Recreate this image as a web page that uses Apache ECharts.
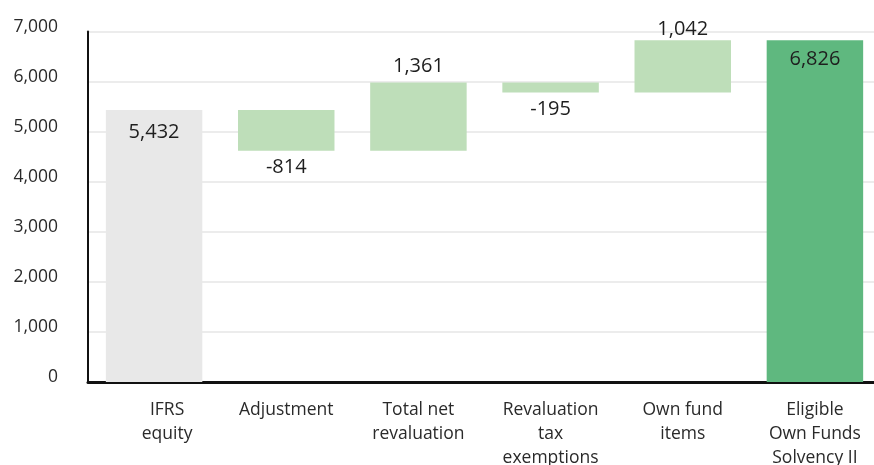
<!DOCTYPE html>
<html>
<head>
<meta charset="utf-8">
<script src="https://cdn.jsdelivr.net/npm/echarts@6/dist/echarts.min.js"></script>
<style>
html,body{margin:0;padding:0;background:#fff;}
#c{width:874px;height:465px;}
</style>
</head>
<body>
<div id="c"></div>
<script>
const categories = ["IFRS\nequity", "Adjustment", "Total net\nrevaluation", "Revaluation\ntax\nexemptions", "Own fund\nitems", "Eligible\nOwn Funds\nSolvency II"];
const values = [5432, -814, 1361, -195, 1042, 6826];
const kinds = ["start", "delta", "delta", "delta", "delta", "total"];
const yTicks = [0, 1000, 2000, 3000, 4000, 5000, 6000, 7000];

const colors = { start: "#e8e8e8", delta: "#bedeb9", total: "#5fb87f" };
const fmt = v => Math.abs(v).toLocaleString("en-US");
const FONT = "Open Sans";

let running = 0;
const baseData = [], barData = [];
values.forEach((v, i) => {
  const k = kinds[i];
  let base, h;
  if (k === "delta") {
    base = v >= 0 ? running : running + v;
    h = Math.abs(v);
    running += v;
  } else {
    base = 0; h = v; running = v;
  }
  baseData.push(base);
  let label;
  if (k === "delta") {
    label = v >= 0 ? { position: "top", distance: (i === 4 ? 1 : 6) } : { position: "bottom", distance: 7 };
  } else {
    label = { position: "insideTop", distance: (k === "start" ? 12 : 9) };
  }
  barData.push({
    value: h,
    raw: v,
    itemStyle: { color: colors[k] },
    label: label
  });
});

const chart = echarts.init(document.getElementById("c"), null, { renderer: "canvas" });
chart.setOption({
  animation: false,
  grid: { left: 88, right: -7, top: 31.5, bottom: 83, containLabel: false, outerBoundsMode: "none" },
  xAxis: {
    type: "category",
    data: categories,
    axisLine: { show: true, lineStyle: { color: "#111", width: 3 } },
    axisTick: { show: false },
    axisLabel: {
      interval: 0,
      margin: 16,
      color: "#2a2a2a",
      fontFamily: FONT,
      fontSize: 17.5,
      lineHeight: 24,
      formatter: (val, idx) => idx === 0 ? val.split("\n").map(s => "{s|" + s + "}").join("\n") : val,
      rich: { s: { padding: [0, 0, 0, 26], fontFamily: FONT, fontSize: 17.5, lineHeight: 24, color: "#2a2a2a" } }
    }
  },
  yAxis: {
    type: "value",
    min: yTicks[0],
    max: yTicks[yTicks.length - 1],
    interval: 1000,
    axisLine: { show: true, lineStyle: { color: "#111", width: 2 } },
    axisTick: { show: false },
    splitLine: { show: true, lineStyle: { color: "#e6e6e6", width: 1.5 } },
    axisLabel: {
      color: "#2a2a2a",
      margin: 30,
      formatter: v => "{t|" + v.toLocaleString("en-US") + "}",
      rich: { t: { fontFamily: FONT, fontSize: 17.5, color: "#2a2a2a", padding: [0, 0, 9, 0] } }
    }
  },
  series: [
    {
      type: "bar",
      stack: "w",
      data: baseData,
      itemStyle: { color: "transparent" },
      barWidth: "73%",
      silent: true
    },
    {
      type: "bar",
      stack: "w",
      data: barData,
      barWidth: "73%",
      label: {
        show: true,
        color: "#1e1e1e",
        fontFamily: FONT,
        fontSize: 20,
        formatter: p => (p.data.raw < 0 ? "-" : "") + fmt(p.data.raw)
      }
    }
  ]
});
</script>
</body>
</html>
